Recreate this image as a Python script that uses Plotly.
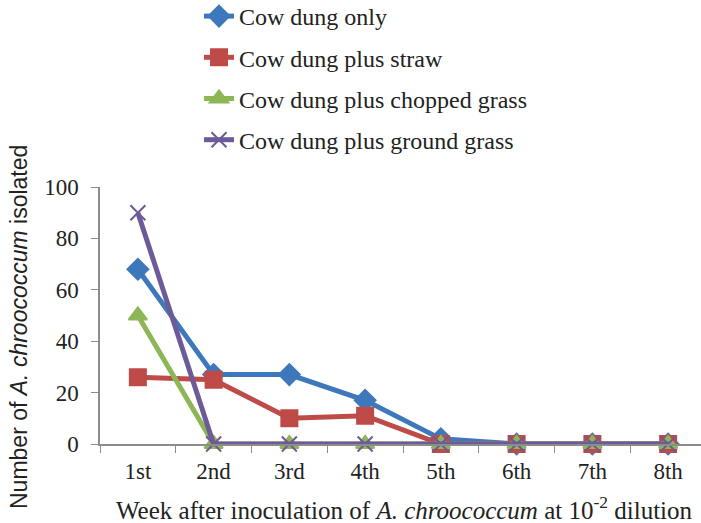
import plotly.graph_objects as go

weeks = ["1st", "2nd", "3rd", "4th", "5th", "6th", "7th", "8th"]
cow_dung_only = [68, 27, 27, 17, 2, 0, 0, 0]
cow_dung_straw = [26, 25, 10, 11, 0, 0, 0, 0]
cow_dung_chopped = [50, 0, 0, 0, 0, 0, 0, 0]
cow_dung_ground = [90, 0, 0, 0, 0, 0, 0, 0]

series = [
    ("Cow dung only", cow_dung_only, "#3E78BC", "diamond", 16),
    ("Cow dung plus straw", cow_dung_straw, "#BE4B48", "square", 16),
    ("Cow dung plus chopped grass", cow_dung_chopped, "#8DB657", "triangle-up", 16),
    ("Cow dung plus ground grass", cow_dung_ground, "#6E5A98", "x-thin", 15),
]

serif = "Liberation Serif, Times New Roman, serif"
sans = "Liberation Sans, Arial, sans-serif"

W, H = 701, 523
L, R, T, B = 100, 0, 187, 79
PW, PH = W - L - R, H - T - B


def px_x(px):
    return (px - L) / PW


def px_y(py):
    return (H - B - py) / PH


fig = go.Figure()
for i, (name, vals, color, sym, size) in enumerate(series):
    fig.add_trace(go.Scatter(
        x=weeks, y=vals, name=name, mode="lines+markers",
        legendgroup=f"g{i}",
        line=dict(color=color, width=5),
        marker=dict(symbol=sym, size=size, color=color,
                    line=dict(color=color, width=2)),
        cliponaxis=False,
    ))

fig.update_layout(
    width=W, height=H,
    margin=dict(l=L, r=R, t=T, b=B, autoexpand=False),
    paper_bgcolor="white", plot_bgcolor="white",
    font=dict(family=serif, size=23, color="#222222"),
    showlegend=True,
    legend=dict(
        xref="paper", yref="paper",
        x=px_x(199), y=px_y(-6), xanchor="left", yanchor="top",
        font=dict(family=serif, size=24, color="#222222"),
        tracegroupgap=7, bgcolor="rgba(0,0,0,0)",
    ),
    xaxis=dict(
        type="category", range=[-0.5, 7.434],
        showline=True, linecolor="#8C8C8C", linewidth=1.5,
        ticks="outside", tickson="boundaries", ticklen=7,
        tickcolor="#8C8C8C", showgrid=False, zeroline=False,
        tickangle=0, ticklabelstandoff=6,
        tickfont=dict(family=serif, size=23, color="#222222"),
    ),
    yaxis=dict(
        range=[0, 100], tickvals=[0, 20, 40, 60, 80, 100],
        showline=True, linecolor="#8C8C8C", linewidth=1.5,
        ticks="outside", ticklen=7, tickcolor="#8C8C8C",
        showgrid=False, zeroline=False,
        tickfont=dict(family=serif, size=23, color="#222222"),
        ticklabelstandoff=8,
    ),
    annotations=[
        dict(text="Week after inoculation of <i>A. chroococcum</i> at 10<sup>-2</sup> dilution",
             xref="paper", yref="paper", x=px_x(404), y=px_y(508),
             xanchor="center", yanchor="middle", showarrow=False,
             font=dict(family=serif, size=25, color="#222222")),
        dict(text="Number of <i>A. chroococcum</i> isolated",
             xref="paper", yref="paper", x=px_x(19), y=px_y(327),
             xanchor="center", yanchor="middle", textangle=-90, showarrow=False,
             font=dict(family=sans, size=23, color="#222222")),
    ],
)

fig.write_html("out.html")
